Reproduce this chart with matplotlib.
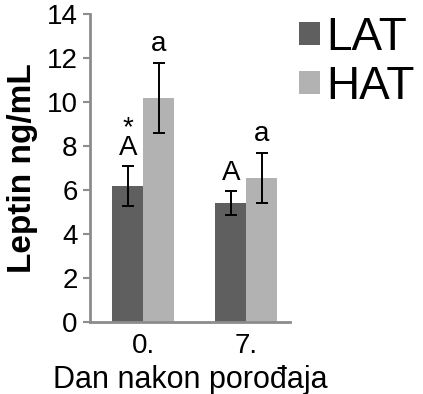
import matplotlib
matplotlib.use("Agg")
import matplotlib.pyplot as plt
import numpy as np

plt.rcParams['font.family'] = ['Liberation Sans', 'DejaVu Sans']

categories = ["0.", "7."]
lat_values = [6.18, 5.40]
lat_err = [0.90, 0.55]
hat_values = [10.18, 6.55]
hat_err = [1.60, 1.15]
lat_labels = ["*\nA", "A"]
hat_labels = ["a", "a"]
yticks = [0, 2, 4, 6, 8, 10, 12, 14]

W, H = 423, 394
fig = plt.figure(figsize=(W/100, H/100), dpi=100)
ax = fig.add_axes([90/W, (H-322)/H, 200/W, (322-14)/H])

x = np.arange(len(categories))
bw = 0.30
c_lat = "#5f5f5f"
c_hat = "#b2b2b2"
b1 = ax.bar(x - bw/2, lat_values, bw, color=c_lat, label="LAT")
b2 = ax.bar(x + bw/2, hat_values, bw, color=c_hat, label="HAT")
ax.errorbar(x - bw/2, lat_values, yerr=lat_err, fmt='none', ecolor='black',
            elinewidth=1.4, capsize=4, capthick=1.4)
ax.errorbar(x + bw/2, hat_values, yerr=hat_err, fmt='none', ecolor='black',
            elinewidth=1.4, capsize=4, capthick=1.4)

for i in range(len(categories)):
    ax.text(x[i] - bw/2, lat_values[i] + lat_err[i] + 0.25, lat_labels[i],
            ha='center', va='bottom', fontsize=20, linespacing=0.7)
    ax.text(x[i] + bw/2, hat_values[i] + hat_err[i] + 0.25, hat_labels[i],
            ha='center', va='bottom', fontsize=20)

ax.set_xlim(-0.517, 1.425)
ax.set_ylim(0, 14)
ax.set_yticks(yticks)
ax.set_yticklabels([str(v) for v in yticks], fontsize=20)
ax.set_xticks(x)
ax.set_xticklabels(categories, fontsize=20)
ax.tick_params(axis='x', length=0, pad=8)
ax.tick_params(axis='y', length=5, width=1.5, color='#8c8c8c', direction='out', pad=4)
for s in ['top', 'right']:
    ax.spines[s].set_visible(False)
for s in ['left', 'bottom']:
    ax.spines[s].set_color('#8c8c8c')
    ax.spines[s].set_linewidth(2)

ax.set_ylabel("Leptin ng/mL", fontsize=24, fontweight='bold', labelpad=6)
ax.set_xlabel("Dan nakon porođaja", fontsize=22, labelpad=4)

leg = fig.legend(handles=[b1, b2], labels=["LAT", "HAT"], loc='upper left',
                 bbox_to_anchor=(299/W, 1 - 16/H), frameon=False, fontsize=33,
                 handlelength=0.45, handleheight=0.4, handletextpad=0.15,
                 labelspacing=0.1, borderaxespad=0, borderpad=0)

fig.savefig("out.png", dpi=100)
